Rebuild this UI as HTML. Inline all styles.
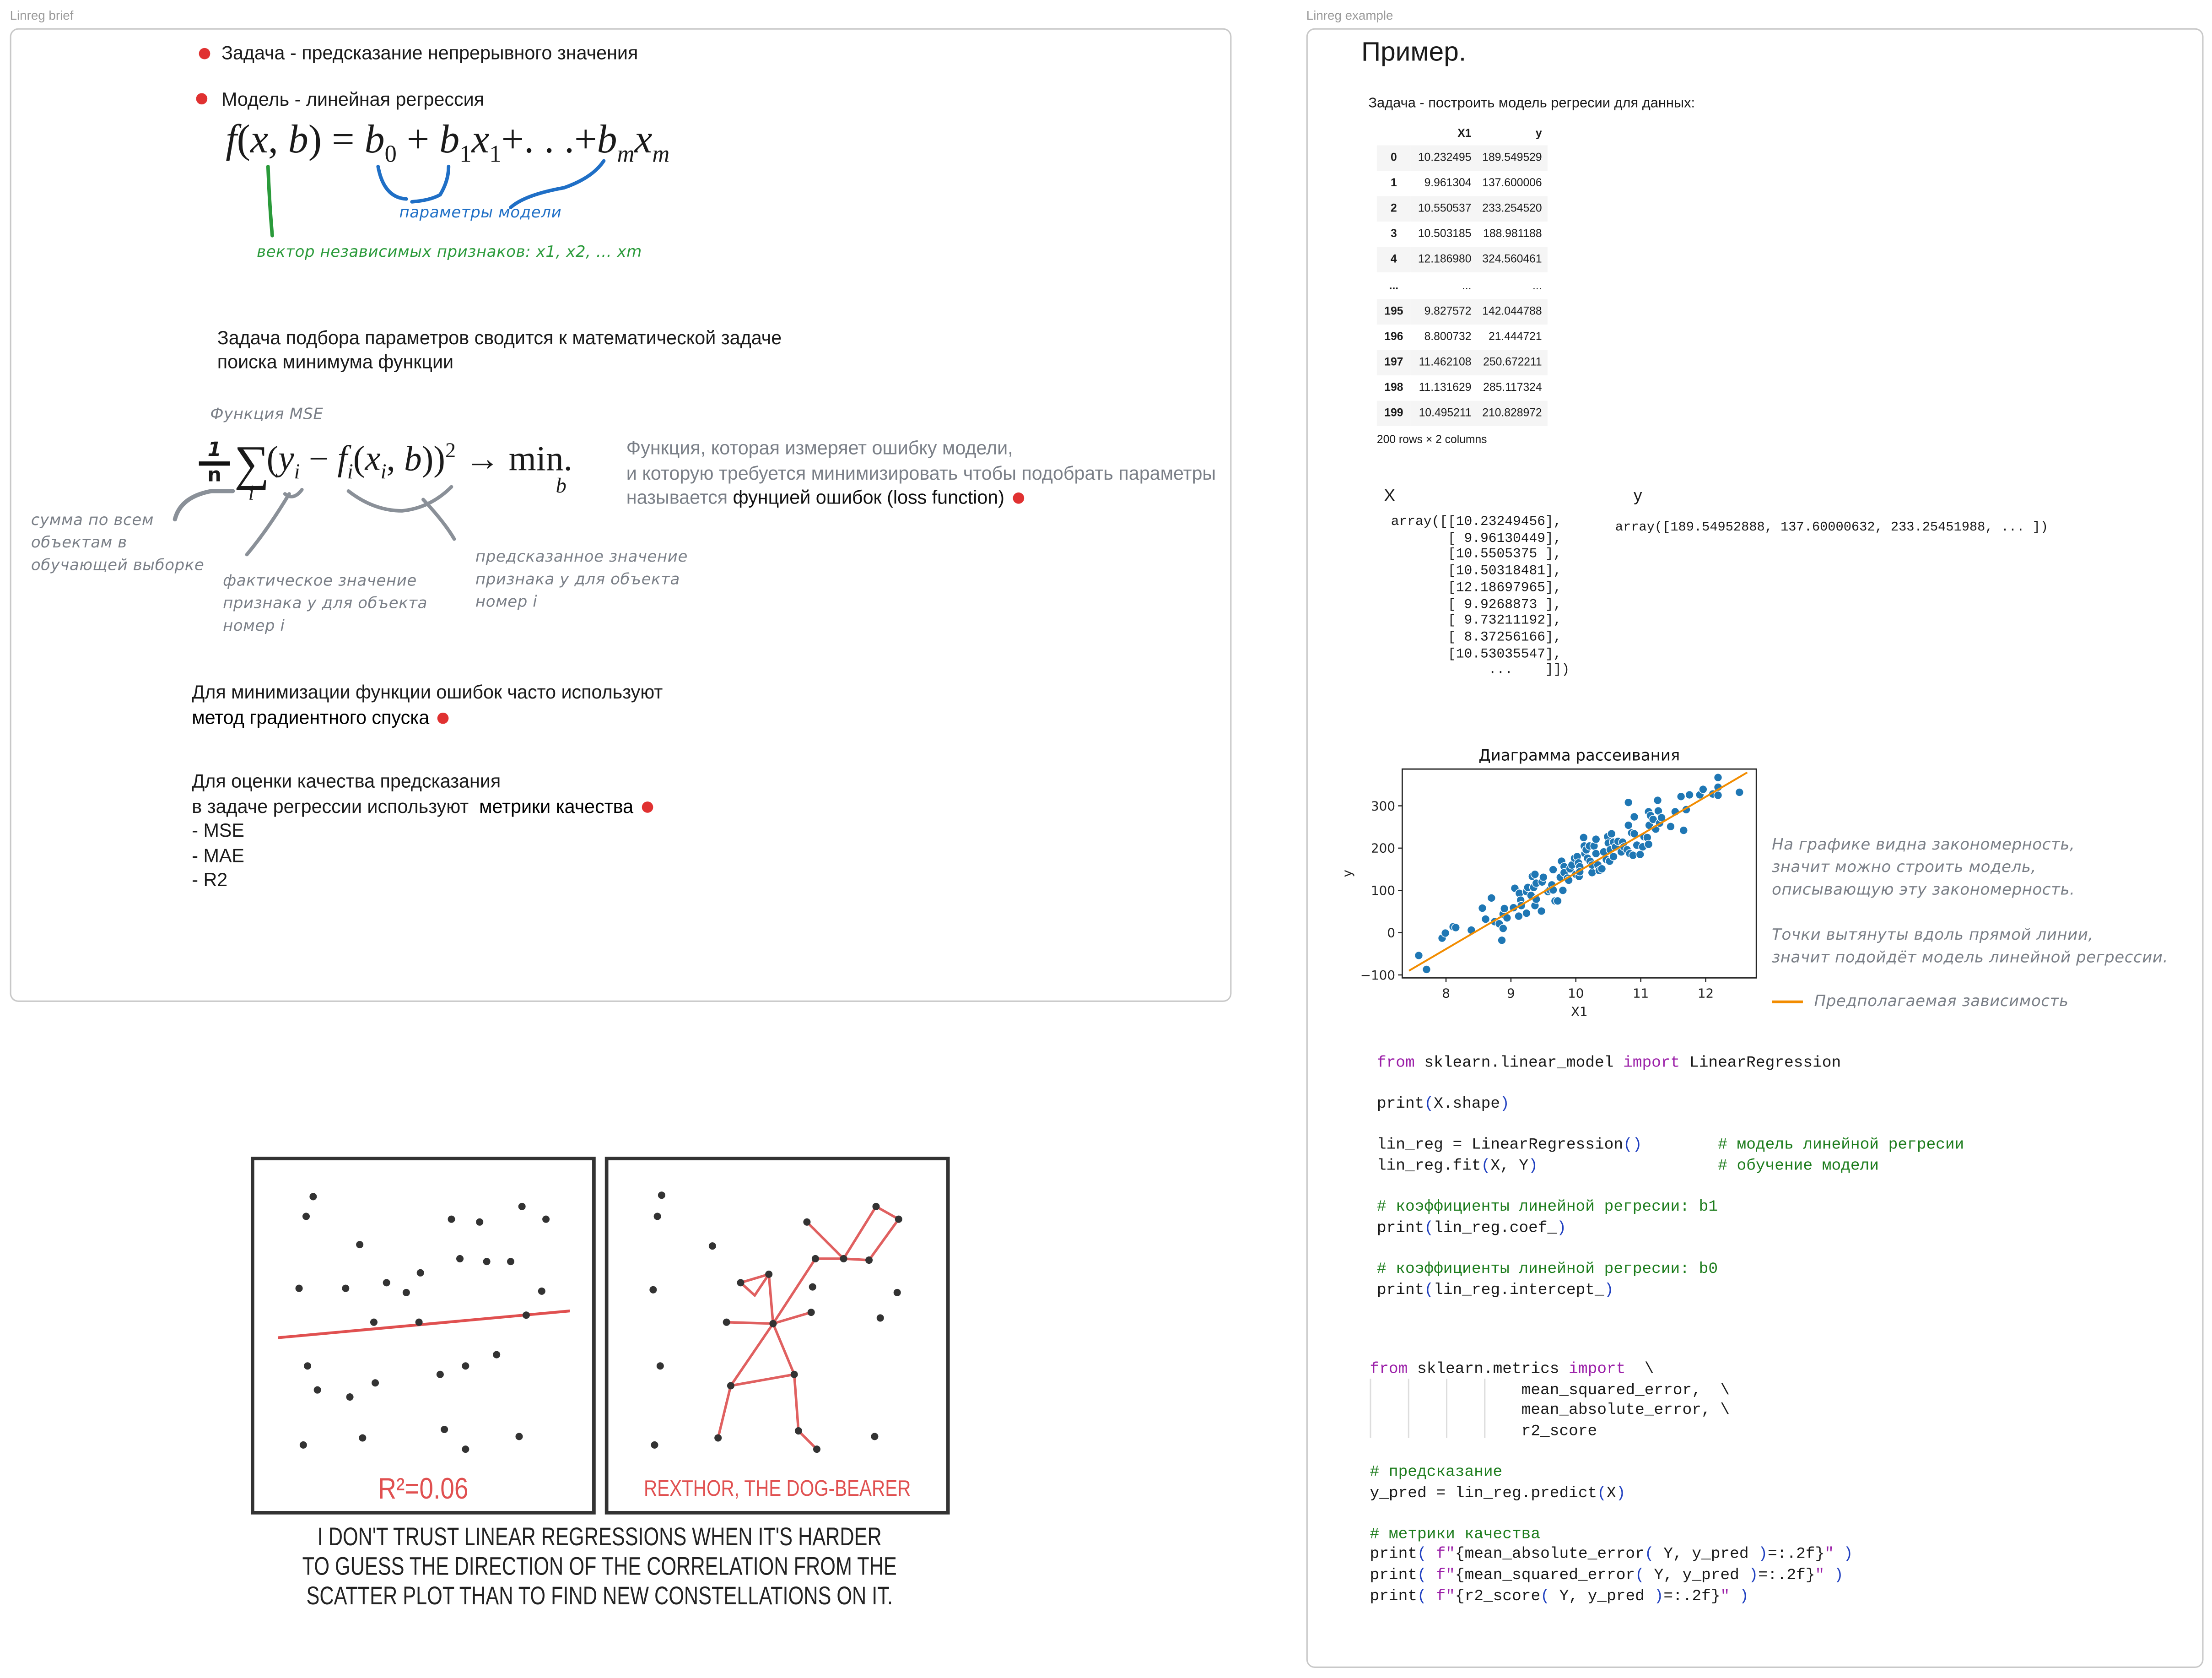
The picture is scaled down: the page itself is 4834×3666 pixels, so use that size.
<!DOCTYPE html>
<html><head><meta charset="utf-8">
<style>
html,body{margin:0;padding:0;background:#fff;width:4834px;height:3664px;overflow:hidden}
#root{position:absolute;left:0;top:0;width:1568px;height:1189px;transform:scale(3.0829);transform-origin:0 0;font-family:"Liberation Sans","DejaVu Sans",sans-serif;color:#1a1a1a}
.a{position:absolute;white-space:pre;line-height:1}
.t{font-size:13.4px}
.h{font-family:"DejaVu Sans","Liberation Sans",sans-serif;font-size:11px;color:#7a7f87;font-style:italic;letter-spacing:0.2px}
.g{color:#7a7f87}
.dot{position:absolute;width:8px;height:8px;border-radius:50%;background:#e03131}
.idot{display:inline-block;width:8px;height:8px;border-radius:50%;background:#e03131;margin-left:6px;vertical-align:0px}
.panel{position:absolute;border:1.3px solid #c8c8c8;border-radius:6px}
.lbl{position:absolute;font-size:9px;color:#9a9a9a}
.m{font-family:"Liberation Serif",serif}
.code{font-family:"Liberation Mono","DejaVu Sans Mono",monospace;font-size:11.2px;color:#1a1a1a}
.kw{color:#9b1fa8}.cm{color:#1c7c1c}.p{color:#2040c0}
table{border-collapse:collapse;font-size:8px}
</style></head><body>
<div id="root">

<div class="lbl" style="left:7px;top:6px">Linreg brief</div>
<div class="panel" style="left:7px;top:20px;width:864px;height:688px"></div>
<div class="lbl" style="left:926px;top:6px">Linreg example</div>
<div class="panel" style="left:926px;top:20px;width:634px;height:1160px"></div>

<!-- LEFT PANEL -->
<div class="dot" style="left:141px;top:34px"></div>
<div class="a t" style="left:157px;top:31px">Задача - предсказание непрерывного значения</div>
<div class="dot" style="left:139px;top:66px"></div>
<div class="a t" style="left:157px;top:64px">Модель - линейная регрессия</div>

<div class="a m" style="left:160px;top:86px;font-size:28.5px;font-style:italic">f<span style="font-style:normal">(</span>x<span style="font-style:normal">,</span> b<span style="font-style:normal">) = </span>b<sub style="font-size:17px;font-style:normal">0</sub><span style="font-style:normal"> + </span>b<sub style="font-size:17px;font-style:normal">1</sub>x<sub style="font-size:17px;font-style:normal">1</sub><span style="font-style:normal">+. . .+</span>b<sub style="font-size:17px">m</sub>x<sub style="font-size:17px">m</sub></div>

<svg class="a" style="left:0;top:0" width="880" height="720">
<path d="M268 118 Q272 140 288 141 M318 118 Q318 128 312 138 Q305 142 292 143" stroke="#1f6fc6" stroke-width="2.5" fill="none" stroke-linecap="round"/>
<path d="M362 147 Q372 138 400 133 Q420 126 428 114" stroke="#1f6fc6" stroke-width="2.5" fill="none" stroke-linecap="round"/>
<path d="M190 118 Q191 145 193 167" stroke="#2a9a3a" stroke-width="2.5" fill="none" stroke-linecap="round"/>
<path d="M124 368 Q128 352 150 348 L165 348" stroke="#8a9098" stroke-width="3" fill="none" stroke-linecap="round"/>
<path d="M202 350 Q208 355 214 347 M205 350 Q190 375 175 393" stroke="#8a9098" stroke-width="2.5" fill="none" stroke-linecap="round"/>
<path d="M247 348 Q265 362 285 362 Q305 360 320 345 M300 354 Q315 370 322 382" stroke="#8a9098" stroke-width="2.5" fill="none" stroke-linecap="round"/>
</svg>
<div class="a h" style="left:283px;top:145px;color:#1f6fc6">параметры модели</div>
<div class="a h" style="left:182px;top:173px;color:#2a9a3a">вектор независимых признаков: x1, x2, ... xm</div>

<div class="a t" style="left:154px;top:231px;line-height:17px">Задача подбора параметров сводится к математической задаче
поиска минимума функции</div>
<div class="a h" style="left:149px;top:288px">Функция MSE</div>

<div class="a" style="left:141px;top:312px;width:22px;text-align:center;font-family:'DejaVu Sans',sans-serif;font-weight:bold;font-size:14px;line-height:15px"><div style="border-bottom:3px solid #111;font-style:italic">1</div><div>n</div></div>
<div class="a m" style="left:166px;top:311px;font-size:35px">∑</div>
<div class="a m" style="left:189px;top:313px;font-size:25px">(<i>y<sub style="font-size:15px">i</sub></i> − <i>f<sub style="font-size:15px">i</sub></i>(<i>x<sub style="font-size:15px">i</sub></i>, <i>b</i>))<sup style="font-size:15px">2</sup> → min.</div>
<div class="a m" style="left:176px;top:343px;font-size:15px;font-style:italic">i</div>
<div class="a m" style="left:394px;top:338px;font-size:15px;font-style:italic">b</div>

<div class="a t g" style="left:444px;top:309px;line-height:17.5px">Функция, которая измеряет ошибку модели,
и которую требуется минимизировать чтобы подобрать параметры
называется <span style="color:#111">фунцией ошибок (loss function)</span><span class="idot"></span></div>

<div class="a h" style="left:22px;top:361px;line-height:16px">сумма по всем
объектам в
обучающей выборке</div>
<div class="a h" style="left:158px;top:404px;line-height:16px">фактическое значение
признака y для объекта
номер i</div>
<div class="a h" style="left:337px;top:387px;line-height:16px">предсказанное значение
признака y для объекта
номер i</div>

<div class="a t" style="left:136px;top:482px;line-height:17.5px">Для минимизации функции ошибок часто используют
<span style="color:#000">метод градиентного спуска</span><span class="idot"></span></div>
<div class="a t" style="left:136px;top:545px;line-height:17.5px">Для оценки качества предсказания
в задаче регрессии используют  <span style="color:#000">метрики качества</span><span class="idot"></span>
- MSE
- MAE
- R2</div>

<!-- XKCD COMIC -->
<svg class="a" style="left:0;top:0" width="700" height="1150">
<rect x="179" y="821" width="242" height="251" fill="none" stroke="#333" stroke-width="2.5"/>
<rect x="430" y="821" width="242" height="251" fill="none" stroke="#333" stroke-width="2.5"/>
<line x1="197" y1="948" x2="404" y2="929" stroke="#e05050" stroke-width="2"/>
<g stroke="#e06060" stroke-width="1.8" fill="none">
<polyline points="515,937 548,938 575,930"/>
<polyline points="509,1019 518,982 548,938 563,974 566,1014 579,1027"/>
<polyline points="548,938 545,903 525,909 535,918 545,903 548,938"/>
<polyline points="548,938 578,892 598,892 616,893 637,864 621,855 598,892 572,866"/>
<polyline points="518,982 563,974"/>
</g>
<g fill="#333">
<circle cx="222" cy="848" r="2.6"/><circle cx="217" cy="862" r="2.6"/><circle cx="255" cy="882" r="2.6"/><circle cx="320" cy="864" r="2.6"/><circle cx="340" cy="866" r="2.6"/><circle cx="370" cy="855" r="2.6"/><circle cx="387" cy="864" r="2.6"/><circle cx="212" cy="913" r="2.6"/><circle cx="245" cy="913" r="2.6"/><circle cx="274" cy="909" r="2.6"/><circle cx="288" cy="916" r="2.6"/><circle cx="298" cy="902" r="2.6"/><circle cx="326" cy="892" r="2.6"/><circle cx="345" cy="894" r="2.6"/><circle cx="362" cy="894" r="2.6"/><circle cx="384" cy="915" r="2.6"/><circle cx="265" cy="937" r="2.6"/><circle cx="297" cy="937" r="2.6"/><circle cx="373" cy="932" r="2.6"/><circle cx="218" cy="968" r="2.6"/><circle cx="225" cy="985" r="2.6"/><circle cx="248" cy="990" r="2.6"/><circle cx="266" cy="980" r="2.6"/><circle cx="312" cy="974" r="2.6"/><circle cx="330" cy="968" r="2.6"/><circle cx="352" cy="960" r="2.6"/><circle cx="215" cy="1024" r="2.6"/><circle cx="257" cy="1019" r="2.6"/><circle cx="315" cy="1013" r="2.6"/><circle cx="330" cy="1027" r="2.6"/><circle cx="368" cy="1018" r="2.6"/>
<circle cx="469" cy="847" r="2.6"/><circle cx="466" cy="862" r="2.6"/><circle cx="505" cy="883" r="2.6"/><circle cx="572" cy="866" r="2.6"/><circle cx="621" cy="855" r="2.6"/><circle cx="637" cy="864" r="2.6"/><circle cx="578" cy="892" r="2.6"/><circle cx="598" cy="892" r="2.6"/><circle cx="616" cy="893" r="2.6"/><circle cx="463" cy="914" r="2.6"/><circle cx="525" cy="909" r="2.6"/><circle cx="545" cy="903" r="2.6"/><circle cx="576" cy="912" r="2.6"/><circle cx="636" cy="916" r="2.6"/><circle cx="515" cy="937" r="2.6"/><circle cx="548" cy="938" r="2.6"/><circle cx="575" cy="930" r="2.6"/><circle cx="624" cy="934" r="2.6"/><circle cx="468" cy="968" r="2.6"/><circle cx="563" cy="974" r="2.6"/><circle cx="518" cy="982" r="2.6"/><circle cx="509" cy="1019" r="2.6"/><circle cx="464" cy="1024" r="2.6"/><circle cx="566" cy="1014" r="2.6"/><circle cx="579" cy="1027" r="2.6"/><circle cx="620" cy="1018" r="2.6"/>
</g>
<text x="300" y="1062" text-anchor="middle" font-family="Liberation Sans" font-size="21" fill="#e05050" transform="translate(300 0) scale(0.85 1) translate(-300 0)">R²=0.06</text>
<text x="551" y="1060" text-anchor="middle" font-family="Liberation Sans" font-size="16" fill="#e05050" transform="translate(551 0) scale(0.82 1) translate(-551 0)">REXTHOR, THE DOG-BEARER</text>
<g font-family="Liberation Sans" font-size="18" fill="#222" text-anchor="middle" transform="translate(425 0) scale(0.78 1) translate(-425 0)">
<text x="425" y="1095">I DON'T TRUST LINEAR REGRESSIONS WHEN IT'S HARDER</text>
<text x="425" y="1116">TO GUESS THE DIRECTION OF THE CORRELATION FROM THE</text>
<text x="425" y="1137">SCATTER PLOT THAN TO FIND NEW CONSTELLATIONS ON IT.</text>
</g>
</svg>

<!-- RIGHT PANEL -->
<div class="a" style="left:965px;top:28px;font-size:19px">Пример.</div>
<div class="a" style="left:970px;top:69px;font-size:10px">Задача - построить модель регресии для данных:</div>

<table class="a" style="left:976px;top:86px">
<tr style="height:17px;font-weight:bold"><td style="width:22px"></td><td style="width:42px;text-align:right">X1</td><td style="width:48px;text-align:right;padding-right:4px">y</td></tr>
<tr style="height:18.1px;background:#f5f5f5"><td style="text-align:center;font-weight:bold">0</td><td style="text-align:right">10.232495</td><td style="text-align:right;padding-right:4px">189.549529</td></tr>
<tr style="height:18.1px"><td style="text-align:center;font-weight:bold">1</td><td style="text-align:right">9.961304</td><td style="text-align:right;padding-right:4px">137.600006</td></tr>
<tr style="height:18.1px;background:#f5f5f5"><td style="text-align:center;font-weight:bold">2</td><td style="text-align:right">10.550537</td><td style="text-align:right;padding-right:4px">233.254520</td></tr>
<tr style="height:18.1px"><td style="text-align:center;font-weight:bold">3</td><td style="text-align:right">10.503185</td><td style="text-align:right;padding-right:4px">188.981188</td></tr>
<tr style="height:18.1px;background:#f5f5f5"><td style="text-align:center;font-weight:bold">4</td><td style="text-align:right">12.186980</td><td style="text-align:right;padding-right:4px">324.560461</td></tr>
<tr style="height:18.1px"><td style="text-align:center;font-weight:bold">...</td><td style="text-align:right">...</td><td style="text-align:right;padding-right:4px">...</td></tr>
<tr style="height:18.1px;background:#f5f5f5"><td style="text-align:center;font-weight:bold">195</td><td style="text-align:right">9.827572</td><td style="text-align:right;padding-right:4px">142.044788</td></tr>
<tr style="height:18.1px"><td style="text-align:center;font-weight:bold">196</td><td style="text-align:right">8.800732</td><td style="text-align:right;padding-right:4px">21.444721</td></tr>
<tr style="height:18.1px;background:#f5f5f5"><td style="text-align:center;font-weight:bold">197</td><td style="text-align:right">11.462108</td><td style="text-align:right;padding-right:4px">250.672211</td></tr>
<tr style="height:18.1px"><td style="text-align:center;font-weight:bold">198</td><td style="text-align:right">11.131629</td><td style="text-align:right;padding-right:4px">285.117324</td></tr>
<tr style="height:18.1px;background:#f5f5f5"><td style="text-align:center;font-weight:bold">199</td><td style="text-align:right">10.495211</td><td style="text-align:right;padding-right:4px">210.828972</td></tr>
</table>
<div class="a" style="left:976px;top:308px;font-size:8px">200 rows × 2 columns</div>

<div class="a" style="left:981px;top:345px;font-size:12px">X</div>
<div class="a" style="left:1158px;top:345px;font-size:12px">y</div>
<div class="a code" style="left:986px;top:364px;font-size:9.6px;line-height:11.7px">array([[10.23249456],
       [ 9.96130449],
       [10.5505375 ],
       [10.50318481],
       [12.18697965],
       [ 9.9268873 ],
       [ 9.73211192],
       [ 8.37256166],
       [10.53035547],
            ...    ]])</div>
<div class="a code" style="left:1145px;top:369px;font-size:9.3px">array([189.54952888, 137.60000632, 233.25451988, ... ])</div>

<svg id="chart" class="a" style="left:940px;top:520px" width="320" height="210"></svg>

<div class="a h" style="left:1256px;top:591px;line-height:16px">На графике видна закономерность,
значит можно строить модель,
описывающую эту закономерность.

Точки вытянуты вдоль прямой линии,
значит подойдёт модель линейной регрессии.</div>
<div class="a" style="left:1256px;top:709px;width:22px;height:2px;background:#f28c00"></div>
<div class="a h" style="left:1286px;top:704px">Предполагаемая зависимость</div>

<div class="a code" style="left:976px;top:747px;line-height:14.6px"><span class="kw">from</span> sklearn.linear_model <span class="kw">import</span> LinearRegression

print<span class="p">(</span>X.shape<span class="p">)</span>

lin_reg = LinearRegression<span class="p">()</span>        <span class="cm"># модель линейной регреcии</span>
lin_reg.fit<span class="p">(</span>X, Y<span class="p">)</span>                   <span class="cm"># обучение модели</span>

<span class="cm"># коэффициенты линейной регреcии: b1</span>
print<span class="p">(</span>lin_reg.coef_<span class="p">)</span>

<span class="cm"># коэффициенты линейной регреcии: b0</span>
print<span class="p">(</span>lin_reg.intercept_<span class="p">)</span></div>

<div class="a" style="left:971px;top:977px;width:80px;height:42px;border-left:1px solid #ddd"><div style="position:absolute;left:26px;top:0;height:42px;border-left:1px solid #ddd"></div><div style="position:absolute;left:53px;top:0;height:42px;border-left:1px solid #ddd"></div><div style="position:absolute;left:80px;top:0;height:42px;border-left:1px solid #ddd"></div></div>
<div class="a code" style="left:971px;top:964px;line-height:14.6px"><span class="kw">from</span> sklearn.metrics <span class="kw">import</span>  \
                mean_squared_error,  \
                mean_absolute_error, \
                r2_score

<span class="cm"># предсказание</span>
y_pred = lin_reg.predict<span class="p">(</span>X<span class="p">)</span>

<span class="cm"># метрики качества</span>
print<span class="p">(</span> <span class="kw">f"</span>{mean_absolute_error<span class="p">(</span> Y, y_pred <span class="p">)</span>=:.2f}<span class="kw">"</span> <span class="p">)</span>
print<span class="p">(</span> <span class="kw">f"</span>{mean_squared_error<span class="p">(</span> Y, y_pred <span class="p">)</span>=:.2f}<span class="kw">"</span> <span class="p">)</span>
print<span class="p">(</span> <span class="kw">f"</span>{r2_score<span class="p">(</span> Y, y_pred <span class="p">)</span>=:.2f}<span class="kw">"</span> <span class="p">)</span></div>

</div>
<script>
const xVals=[7.58,7.70,7.94,7.99,8.11,8.15,8.39,8.56,8.70,8.61,8.75,8.82,8.86,8.88,8.88,8.90,8.94,9.04,9.06,9.12,9.13,9.15,9.16,9.24,9.24,9.26,9.31,9.33,9.37,9.37,9.39,9.35,9.39,9.47,9.48,9.50,9.57,9.60,9.63,9.65,9.65,9.68,9.72,9.76,9.78,9.80,9.82,9.82,9.87,9.89,9.91,9.94,9.98,10.00,10.02,10.04,10.06,10.05,10.06,10.12,10.13,10.14,10.16,10.18,10.21,10.22,10.25,10.25,10.28,10.31,10.31,10.34,10.36,10.40,10.43,10.47,10.49,10.50,10.52,10.53,10.55,10.58,10.58,10.61,10.65,10.70,10.72,10.74,10.79,10.81,10.81,10.83,10.86,10.88,10.90,10.90,10.94,10.99,11.03,11.05,11.10,11.12,11.12,11.13,11.15,11.19,11.23,11.26,11.27,11.29,11.32,11.46,11.53,11.62,11.66,11.70,11.75,11.91,11.96,12.11,12.19,12.19,12.19,12.52];
const yVals=[-54,-87,-13,-1,14,12,6,58,82,32,26,21,-18,10,44,57,35,59,105,39,93,77,64,46,97,107,88,133,138,64,79,107,117,51,120,131,97,101,113,149,101,75,75,131,169,100,156,142,129,124,151,160,176,138,180,165,156,133,144,225,205,187,196,176,205,169,142,160,205,221,187,160,147,151,191,173,227,212,169,196,234,214,180,203,216,191,214,203,196,308,254,187,236,183,274,234,207,185,203,227,225,209,286,254,277,268,245,313,288,259,272,251,286,322,242,291,326,326,339,328,367,344,325,332];
const lineX=[7.43,12.64];
const lineY=[-90,379];
const xTicks=[8,9,10,11,12];
const yTicks=[-100,0,100,200,300];
const chartTitle="Диаграмма рассеивания";
(function(){
const svg=document.getElementById('chart');
const NS='http://www.w3.org/2000/svg';
const L=54,R=305,T=25,B=173;
const xMin=7.326,xMax=12.78,yMin=-107,yMax=387;
const sx=v=>L+(v-xMin)/(xMax-xMin)*(R-L);
const sy=v=>B-(v-yMin)/(yMax-yMin)*(B-T);
function el(tag,attrs){const e=document.createElementNS(NS,tag);for(const k in attrs)e.setAttribute(k,attrs[k]);svg.appendChild(e);return e;}
const box=el('rect',{x:L,y:T,width:R-L,height:B-T,fill:'none',stroke:'#222','stroke-width':0.9});


xTicks.forEach(t=>{
 const tk=el('line',{x1:sx(t),x2:sx(t),y1:B,y2:B+3,stroke:'#222','stroke-width':0.8});
 
 
 const tx=el('text',{x:sx(t),y:B+14,'text-anchor':'middle','font-size':9,'font-family':'DejaVu Sans, sans-serif',fill:'#222'});
 tx.textContent=t;
 
 
});
yTicks.forEach(t=>{
 const tk=el('line',{x1:L-3,x2:L,y1:sy(t),y2:sy(t),stroke:'#222','stroke-width':0.8});
 
 
 const tx=el('text',{x:L-5,y:sy(t)+3.2,'text-anchor':'end','font-size':9,'font-family':'DejaVu Sans, sans-serif',fill:'#222'});
 tx.textContent=(t<0?'\u2212'+(-t):t);
 
 
});
for(let i=0;i<xVals.length;i++){
 const c=el('circle',{cx:sx(xVals[i]),cy:sy(yVals[i]),r:2.9,fill:'#1f77b4',stroke:'#fff','stroke-width':0.5});
 
 
}
const ln=el('line',{x1:sx(lineX[0]),y1:sy(lineY[0]),x2:sx(lineX[1]),y2:sy(lineY[1]),stroke:'#f28c00','stroke-width':1.3});


const tt=el('text',{x:(L+R)/2,y:T-6,'text-anchor':'middle','font-size':11,'font-family':'DejaVu Sans, sans-serif',fill:'#111'});
tt.textContent=chartTitle;


const xl=el('text',{x:(L+R)/2,y:B+27,'text-anchor':'middle','font-size':9,'font-family':'DejaVu Sans, sans-serif',fill:'#222'});
xl.textContent='X1';


const yl=el('text',{x:18,y:(T+B)/2,'text-anchor':'middle','font-size':9,'font-family':'DejaVu Sans, sans-serif',fill:'#222',transform:'rotate(-90 18 '+((T+B)/2)+')'});
yl.textContent='y';


})();
</script>
</body></html>
